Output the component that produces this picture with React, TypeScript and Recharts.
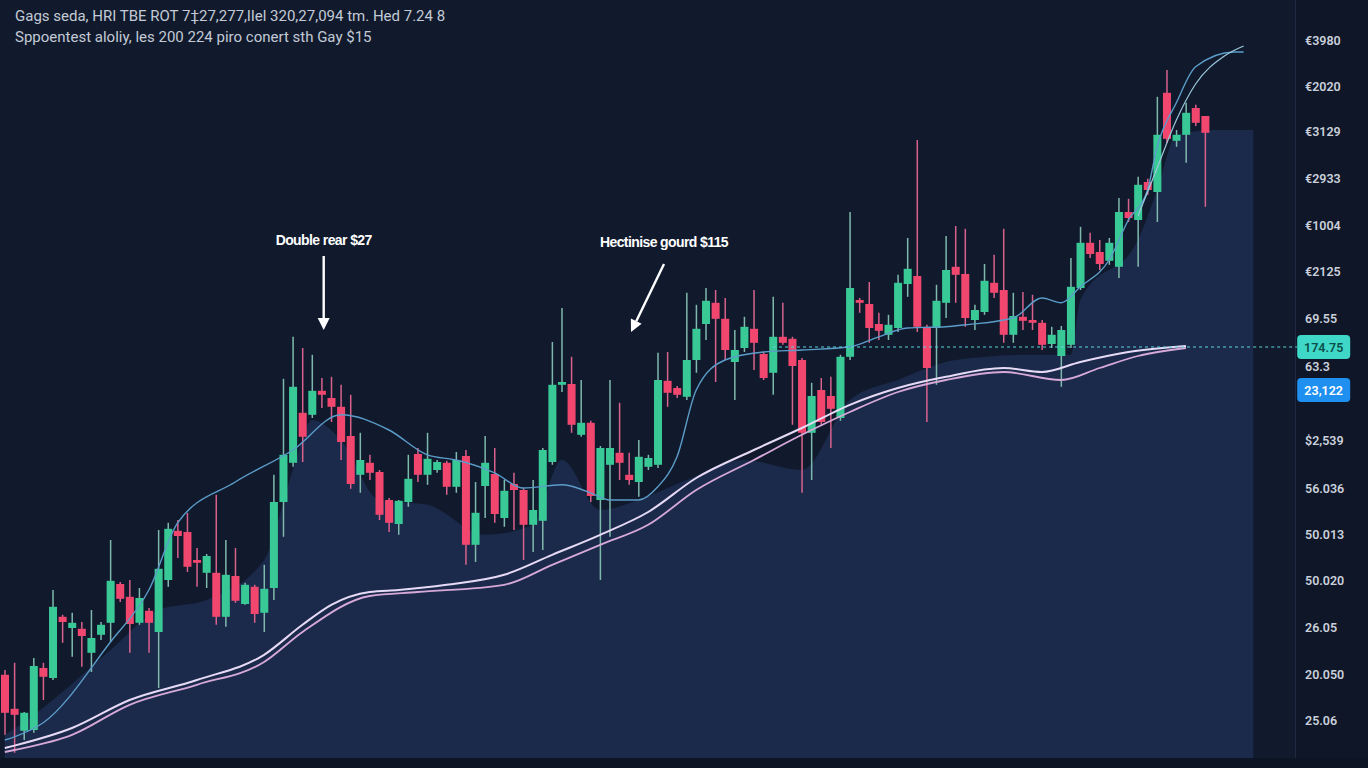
import { ComposedChart, Bar, Line, Area, XAxis, YAxis, ReferenceLine, ReferenceDot } from "recharts"

document.body.style.margin = "0"
document.body.style.background = "#111a2d"

// candles (price units)
const opens = [23.3, 14.8, 9.3, 9.5, 25, 22.5, 37.8, 35, 34.8, 28.8, 33.3, 36.3, 46, 42.8, 36.3, 39.3, 34, 47, 59.3, 59, 52, 48.8, 48.8, 37.8, 48, 41, 45.3, 38.8, 45, 66.5, 76.3, 88.8, 88.3, 94.3, 92.5, 90.3, 83, 73.3, 76.3, 74, 67, 61, 66.5, 78.5, 73.3, 74.5, 76.3, 70.3, 78, 55.8, 70.5, 73.5, 62.5, 71, 69.5, 60.8, 61.8, 76.5, 95.8, 96, 83.3, 86.3, 67, 75.8, 78.8, 73.3, 71.5, 75.3, 75.8, 96.8, 95, 92.8, 102, 111, 116.3, 112.3, 101.5, 105, 109.8, 103.5, 98.8, 107.8, 107.3, 102, 83.8, 94.5, 93, 87.5, 102.8, 117, 116, 111, 108.3, 110, 121, 123, 110.3, 110, 116.3, 125.3, 123.5, 112, 114, 121.3, 119.5, 108.3, 112.8, 112, 111.3, 106, 103, 105.8, 120, 131.3, 129, 126.8, 125.3, 139, 137, 146.5, 144, 168.8, 156.8, 158.3, 165, 163]
const highs = [24.5, 26.3, 14, 27.5, 26.3, 44.5, 38.3, 38.8, 36.5, 39.5, 36.5, 57, 46.5, 47, 45, 40, 59.5, 61.3, 62, 63.8, 55, 53.5, 68.3, 57, 55, 46.3, 45.8, 50.8, 73.3, 97.3, 107.8, 105, 103.3, 97.5, 97.8, 95.8, 93.3, 83.8, 78.3, 74.5, 67.5, 67, 78.3, 80, 83.8, 77, 76.8, 79, 79.5, 71.5, 83, 80, 72, 73.8, 70, 72, 80, 106.5, 115, 102.8, 97, 86.8, 80.5, 97, 91.3, 78.8, 82, 78.3, 103.8, 104, 95.5, 118.8, 115.8, 120, 119.5, 117.5, 109.5, 112.8, 119.5, 104, 117.8, 116.3, 107.8, 102.5, 96.3, 97.5, 97.8, 103.3, 139, 117.5, 121.5, 113.8, 113.3, 123.3, 132.5, 157, 110.8, 120.8, 133, 135.5, 134.8, 115.8, 126, 128.3, 134.8, 118.8, 119, 118.3, 112, 110.3, 110.5, 127.5, 135.3, 133.8, 132, 132.5, 142.5, 142.3, 147.8, 147.3, 167.8, 174.5, 159.5, 166.3, 165.8, 163]
const lows = [8.3, 3.8, 7, 8.8, 17, 22, 31.3, 27.8, 25.3, 24, 32, 31.5, 41.5, 28.8, 35.8, 28.8, 20, 45.3, 52.5, 49, 45.3, 45, 35.8, 35.3, 41.3, 40.8, 36.3, 34, 42, 57.8, 75.3, 76.5, 87.5, 90, 86.5, 77, 69.8, 68.8, 72, 62, 59, 58.3, 65.3, 71.5, 70.8, 73.8, 68.3, 68.8, 50.8, 51.5, 62.5, 61.3, 60.3, 59.5, 52, 54, 54.5, 75.8, 94, 83.8, 82.8, 66.5, 47, 57.8, 72, 70.8, 67.8, 74.5, 75, 90.3, 92.5, 92, 98.8, 107, 96.5, 102, 92, 104, 99.5, 97, 93.3, 105.8, 85.8, 68.8, 72, 85.8, 80, 86.8, 102, 113.8, 106.3, 107, 107, 109, 117.8, 109, 86.5, 95.8, 112.5, 116.3, 110.3, 109.5, 113.3, 117.5, 106.3, 106.3, 109.5, 109.5, 104.5, 105, 95.3, 105, 119.5, 127.5, 124.5, 125.8, 122.5, 136.5, 125.3, 143.3, 136.5, 156.3, 155.3, 151.3, 160.5, 140.3]
const closes = [13.8, 13.3, 13.8, 25.5, 22.8, 40.3, 36.5, 36.3, 33, 32.5, 35.8, 46.8, 42.3, 36, 42.5, 36.3, 49.8, 59.8, 58, 50.3, 51.3, 53, 37.8, 48.3, 41.8, 45.8, 38.5, 44.8, 66.5, 78.3, 95.3, 82.8, 94.3, 93.3, 90.3, 81.5, 71, 77, 73.8, 63.3, 61.3, 66.8, 72.3, 73.3, 77.3, 76.5, 70.3, 77, 55.8, 63.8, 76.3, 63.5, 69.3, 69.5, 60.8, 64.5, 79.5, 95.8, 96.5, 85.8, 86.3, 68, 80, 80, 76.3, 72, 77.8, 77.5, 97, 93.8, 93.3, 102, 109.8, 116.8, 112.3, 104.5, 104.5, 110.3, 106.3, 97.5, 107.8, 106.3, 100.5, 83.8, 93, 86.5, 89.8, 102.8, 120, 116.3, 110, 109.3, 110.8, 121.3, 124.8, 110.3, 100, 116.8, 124.5, 123.3, 112.5, 114.5, 121.8, 118.8, 108.3, 113, 111.8, 111.3, 105.8, 108.3, 109.5, 120.3, 131.3, 128.5, 126, 131.3, 139, 137.5, 145.8, 144.5, 158.3, 157.3, 158.3, 163.8, 161.3, 158.8]

// [candle index, value]
const areaPoints = [[0, 8.3], [1, 9.8], [5, 17], [11, 29.5], [16, 39.5], [21, 42], [27, 52], [30, 74.5], [32, 87], [35, 82], [39, 67], [44, 65.8], [50, 58.3], [55, 60.8], [58, 77], [62, 64.5], [66, 67], [71, 72], [77, 77], [83, 74.5], [88, 92], [93, 97], [99, 102], [107, 103.3], [111, 103.3], [112, 117], [118, 132], [120, 144.5], [122, 158.3], [126, 159.5], [130, 159.5]]
const maSlowA = [[0, 5], [1, 5.6], [7, 10], [13, 17], [20, 22], [27, 28.3], [31, 35.8], [34, 40.8], [38, 44], [41, 44.5], [46, 45.8], [52, 48.3], [57, 53.3], [62, 58.3], [67, 64], [72, 72.5], [78, 79.5], [83, 85], [88, 90.8], [93, 95], [98, 97.8], [104, 100], [108, 99], [112, 101.5], [117, 104], [123, 105.5]]
const maSlowB = [[0, 4], [1, 4.5], [7, 8.3], [13, 15.8], [20, 20.8], [27, 26.5], [31, 34], [38, 43], [43, 44], [52, 45.8], [57, 50.8], [62, 55.8], [67, 60.8], [72, 69.5], [78, 77], [83, 83.3], [88, 89], [93, 94], [98, 97], [104, 99], [110, 97], [114, 100], [118, 103], [123, 105]]
const maFast = [[0, 7], [1, 7.8], [4, 11.3], [11, 31.5], [15, 44.5], [18, 61.3], [24, 71.5], [30, 79.5], [35, 88.3], [40, 84.5], [44, 78.3], [47, 77], [51, 73.8], [54, 70], [58, 70.8], [61, 68.8], [63, 67], [66, 67], [68, 70.3], [70, 77.8], [72, 94.5], [75, 102], [79, 104], [83, 104.5], [88, 105.3], [91, 107.8], [94, 110], [98, 110.3], [100, 110.8], [105, 112.5], [108, 117.5], [110, 116.3], [112, 120.3], [115, 127], [117, 137], [119, 144.5], [120, 155.3], [122, 166.3], [124, 175.3], [128, 179], [129, 179]]
const maFast2 = [[118, 138], [120, 150], [122, 162], [124, 171], [127, 178], [129, 180.5]]

const tickValues = [182, 170.5, 159.25, 147.5, 135.75, 124.25, 112.5, 100.5, 82, 70, 58.5, 47, 35.25, 23.5, 12]
const tickLabels = ["€3980", "€2020", "€3129", "€2933", "€1004", "€2125", "69.55", "63.3", "$2,539", "56.036", "50.013", "50.020", "26.05", "20.050", "25.06"]

const lastPrice = 105.25
const lastPriceLabel = "174.75"
const markPrice = 94.5
const markPriceLabel = "23,122"

const notes = [
  { index: 33, price: 109.5, text: "Double rear $27", dx: 0 },
  { index: 65, price: 109, text: "Hectinise gourd $115", dx: 33 },
]

const totalPoints = 131

const toMap = (pts: number[][]) => {
  const m: Record<number, number> = {}
  pts.forEach(([i, v]) => (m[i] = v))
  return m
}
const areaMap = toMap(areaPoints)
const aMap = toMap(maSlowA)
const bMap = toMap(maSlowB)
const fMap = toMap(maFast)
const f2Map = toMap(maFast2)

const data = Array.from({ length: totalPoints }, (_, i) => {
  const has = i < opens.length
  return {
    name: i,
    open: has ? opens[i] : null,
    close: has ? closes[i] : null,
    high: has ? highs[i] : null,
    low: has ? lows[i] : null,
    range: has ? [lows[i], highs[i]] : null,
    area: areaMap[i] ?? null,
    maA: aMap[i] ?? null,
    maB: bMap[i] ?? null,
    fast: fMap[i] ?? null,
    fast2: f2Map[i] ?? null,
  }
})

const UP = "#39c996"
const DOWN = "#f1476f"

const Candle = (props: any) => {
  const { x, y, width, height, payload } = props
  if (!payload || payload.high == null) return null
  const { open, close, high, low } = payload
  const top = Math.min(y, y + height)
  const h = Math.abs(height)
  const ratio = h / Math.max(high - low, 0.0001)
  const yAt = (v: number) => top + (high - v) * ratio
  const up = close >= open
  const bTop = yAt(Math.max(open, close))
  const bBot = yAt(Math.min(open, close))
  const cx = x + width / 2
  return (
    <g>
      <line x1={cx} x2={cx} y1={top} y2={top + h} stroke={up ? "#7fb9ad" : "#d9628c"} strokeWidth={1.5} />
      <rect x={x} y={bTop} width={width} height={Math.max(bBot - bTop, 2)} fill={up ? UP : DOWN} />
    </g>
  )
}

const AxisTick = (props: any) => {
  const { x, y, payload } = props
  const i = tickValues.indexOf(payload.value)
  return (
    <text x={x + 39} y={y} dy={4.5} fill="#c9d0db" fontSize={12.5} fontWeight={600} fontFamily="Roboto, sans-serif">
      {tickLabels[i]}
    </text>
  )
}

const Badge = ({ cx, cy, fill, color, text, dashed }: any) => (
  <g>
    {dashed && <line x1={cx} x2={cx + 44} y1={cy} y2={cy} stroke="#5fd3dc" strokeWidth={1.2} strokeDasharray="3 3" />}
    <rect x={cx + 44} y={cy - 12} width={53} height={24} rx={4} fill={fill} />
    <text x={cx + 70.5} y={cy + 4.5} textAnchor="middle" fill={color} fontSize={12.5} fontWeight={600} fontFamily="Roboto, sans-serif">
      {text}
    </text>
  </g>
)

const Note = ({ cx, cy, text, dx }: any) => {
  const sx = cx + dx + 2
  const sy = cy - (dx ? 68 : 74)
  const ang = Math.atan2(cy - sy, cx + 2 - sx)
  const tx = cx + 2
  const hl = 12
  const hw = 6
  const bx = tx - Math.cos(ang) * hl
  const by = cy - Math.sin(ang) * hl
  const p1 = `${bx - Math.sin(ang) * hw},${by + Math.cos(ang) * hw}`
  const p2 = `${bx + Math.sin(ang) * hw},${by - Math.cos(ang) * hw}`
  return (
    <g>
      <text x={cx + dx + 2} y={cy - 85} textAnchor="middle" fill="#ffffff" fontSize={14} fontWeight={700} letterSpacing={-0.6} fontFamily="'Liberation Sans', Arial, sans-serif">
        {text}
      </text>
      <line x1={sx} y1={sy} x2={bx} y2={by} stroke="#ffffff" strokeWidth={2.4} />
      <polygon points={`${tx},${cy} ${p1} ${p2}`} fill="#ffffff" />
    </g>
  )
}

export default function App() {
  return (
    <div style={{ position: "relative", width: 1368, height: 768, background: "#111a2d", overflow: "hidden" }}>
      <div style={{ position: "absolute", left: 1295, top: 0, width: 73, height: 768, background: "#0f1627", borderLeft: "1px solid #1f2a42" }} />
      <div style={{ position: "absolute", left: 0, top: 758, width: 1368, height: 10, background: "#0d1424" }} />
      <div style={{ position: "absolute", left: 0, top: 0 }}>
        <ComposedChart width={1368} height={768} data={data} margin={{ top: 0, right: 0, bottom: 10, left: 0 }} barSize={8}>
          <XAxis dataKey="name" hide />
          <YAxis
            orientation="right"
            type="number"
            domain={[2.5, 192]}
            ticks={tickValues}
            tick={<AxisTick />}
            axisLine={false}
            tickLine={false}
            width={110}
            allowDataOverflow
            interval={0}
          />
          <Area dataKey="area" type="monotone" fill="#1b2a4a" fillOpacity={1} stroke="none" dot={false} activeDot={false} connectNulls isAnimationActive={false} />
          <Line dataKey="maB" type="monotone" stroke="#d7a9d9" strokeWidth={1.8} dot={false} activeDot={false} connectNulls isAnimationActive={false} />
          <Line dataKey="maA" type="monotone" stroke="#e7daf6" strokeWidth={2} dot={false} activeDot={false} connectNulls isAnimationActive={false} />
          <Line dataKey="fast" type="monotone" stroke="#5b9cc8" strokeWidth={1.4} dot={false} activeDot={false} connectNulls isAnimationActive={false} />
          <Line dataKey="fast2" type="monotone" stroke="#9cc9dc" strokeWidth={1.2} dot={false} activeDot={false} connectNulls isAnimationActive={false} />
          <Bar dataKey="range" shape={<Candle />} isAnimationActive={false} />
          <ReferenceLine
            segment={[{ x: 80, y: lastPrice }, { x: 130, y: lastPrice }]}
            stroke="#5fd3dc"
            strokeWidth={1.2}
            strokeDasharray="3 3"
          />
          <ReferenceDot
            x={130}
            y={lastPrice}
            r={0}
            shape={(p: any) => <Badge cx={p.cx} cy={p.cy} fill="#3fd8c8" color="#0d4f4b" text={lastPriceLabel} dashed />}
          />
          <ReferenceDot
            x={130}
            y={markPrice}
            r={0}
            shape={(p: any) => <Badge cx={p.cx} cy={p.cy} fill="#1f8ff0" color="#ffffff" text={markPriceLabel} />}
          />
          {notes.map((n) => (
            <ReferenceDot
              key={n.text}
              x={n.index}
              y={n.price}
              r={0}
              shape={(p: any) => <Note cx={p.cx} cy={p.cy} text={n.text} dx={n.dx} />}
            />
          ))}
        </ComposedChart>
      </div>
      <div
        style={{
          position: "absolute",
          left: 15,
          top: 6,
          color: "#c3cad6",
          fontFamily: "Roboto, sans-serif",
          fontSize: 15,
          lineHeight: "21px",
        }}
      >
        <div>Gags seda, HRI TBE ROT 7‡27,277,lIel 320,27,094 tm. Hed 7.24 8</div>
        <div>Sppoentest aloliy, les 200 224 piro conert sth Gay $15</div>
      </div>
    </div>
  )
}
